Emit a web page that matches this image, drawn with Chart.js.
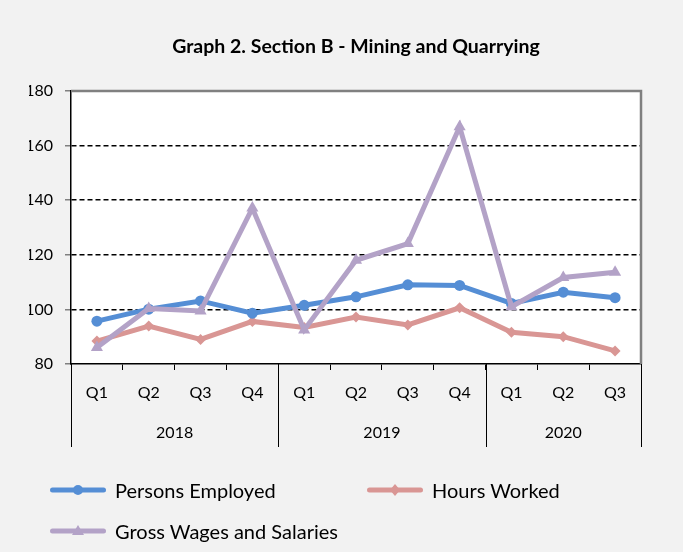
<!DOCTYPE html>
<html>
<head>
<meta charset="utf-8">
<script src="https://cdn.jsdelivr.net/npm/chart.js@4/dist/chart.umd.min.js"></script>
<style>
  html, body { margin: 0; padding: 0; background: #f2f2f2; }
  #wrap { position: relative; width: 683px; height: 552px; background: #f2f2f2; overflow: hidden; }
  #c { position: absolute; left: 0; top: 0; }
  .leg { position: absolute; display: flex; align-items: center; font-family: Lato, "Open Sans", sans-serif; font-size: 20px; color: #000; white-space: nowrap; }
  .leg svg { margin-right: 7px; }
</style>
</head>
<body>
<div id="wrap">
  <canvas id="c" width="683" height="552"></canvas>
</div>
<script>
// ---- data ----
const quarterLabels = ['Q1','Q2','Q3','Q4','Q1','Q2','Q3','Q4','Q1','Q2','Q3'];
const yearLabels = ['2018','2019','2020'];
const quartersPerYear = [4, 4, 3];
const personsEmployed = [95.7, 100.1, 103.1, 98.6, 101.5, 104.6, 109.0, 108.8, 102.2, 106.3, 104.3];
const hoursWorked     = [88.4, 93.9, 89.0, 95.6, 93.4, 97.2, 94.3, 100.6, 91.6, 90.0, 84.8];
const grossWages      = [86.0, 100.3, 99.4, 137.1, 92.5, 118.0, 124.1, 166.9, 101.0, 111.7, 113.6];
const seriesNames = ['Persons Employed', 'Hours Worked', 'Gross Wages and Salaries'];
const yMin = 80, yMax = 180, yStep = 20;
const titleText = 'Graph 2. Section B - Mining and Quarrying';

const colors = { blue: '#558ed5', pink: '#d99694', lav: '#b3a2c7' };
const FONT = 'Lato, "Open Sans", sans-serif';

// year centres / boundaries in category-index units
const yearCenters = [], yearBounds = [-0.5];
{ let s = 0; quartersPerYear.forEach(n => { yearCenters.push(s + (n - 1) / 2); s += n; yearBounds.push(s - 0.5); }); }

const framePlugin = {
  id: 'frame',
  beforeDatasetsDraw(chart) {
    const { ctx, chartArea: a, scales } = chart;
    ctx.save();
    ctx.strokeStyle = '#808080';
    ctx.lineWidth = 2.5;
    ctx.beginPath();
    ctx.moveTo(a.left, a.top); ctx.lineTo(a.right, a.top); ctx.lineTo(a.right, a.bottom);
    ctx.stroke();
    ctx.strokeStyle = '#000';
    ctx.lineWidth = 1;
    const x2 = scales.x2;
    yearBounds.forEach(b => {
      const px = Math.round(x2.getPixelForValue(b)) + 0.5;
      ctx.beginPath();
      ctx.moveTo(px, a.bottom);
      ctx.lineTo(px, x2.bottom);
      ctx.stroke();
    });
    ctx.restore();
  }
};

const chartAreaBg = {
  id: 'areaBg',
  beforeDraw(chart) {
    const { ctx, chartArea: a } = chart;
    ctx.save();
    ctx.fillStyle = '#ffffff';
    ctx.fillRect(a.left, a.top, a.right - a.left, a.bottom - a.top);
    ctx.restore();
  }
};

new Chart(document.getElementById('c'), {
  type: 'line',
  data: {
    labels: quarterLabels,
    datasets: [
      { label: seriesNames[0], data: personsEmployed, borderColor: colors.blue, backgroundColor: colors.blue,
        pointStyle: 'circle', pointRadius: 5.5, borderWidth: 5, pointBorderWidth: 0, order: 2, tension: 0 },
      { label: seriesNames[1], data: hoursWorked, borderColor: colors.pink, backgroundColor: colors.pink,
        pointStyle: 'rectRot', pointRadius: 5.5, borderWidth: 5, pointBorderWidth: 0, order: 3, tension: 0 },
      { label: seriesNames[2], data: grossWages, borderColor: colors.lav, backgroundColor: colors.lav,
        pointStyle: 'triangle', pointRadius: 7, borderWidth: 5, pointBorderWidth: 0, order: 1, tension: 0 }
    ]
  },
  options: {
    responsive: false,
    animation: false,
    devicePixelRatio: 1,
    layout: { padding: { left: 29, right: 0, top: 0, bottom: 105 } },
    plugins: {
      legend: { display: false },
      tooltip: { enabled: false },
      title: {
        display: true, text: titleText, color: '#000',
        font: { family: FONT, size: 19.5, weight: 'bold' },
        padding: { top: 35, bottom: 32.6 }
      }
    },
    scales: {
      y: {
        min: yMin, max: yMax,
        ticks: { stepSize: yStep, color: '#000', font: { family: FONT, size: 16 }, padding: 12 },
        grid: {
          color: c => (c.tick && (c.tick.value === yMin || c.tick.value === yMax)) ? 'rgba(0,0,0,0)' : '#000',
          lineWidth: 1.5,
          tickColor: '#808080', tickLength: 6, tickWidth: 1.5, tickBorderDash: []
        },
        border: { display: true, color: '#000', width: 1.5, dash: [5, 3] },
        afterFit(s) { s.width = 42; }
      },
      yRight: {
        position: 'right', min: yMin, max: yMax,
        grid: { display: false, drawTicks: false },
        border: { display: false },
        ticks: { display: false },
        afterFit(s) { s.width = 42; }
      },
      x: {
        offset: true,
        ticks: { color: '#000', font: { family: FONT, size: 16 }, padding: 13, maxRotation: 0, autoSkip: false },
        grid: { offset: true, drawOnChartArea: false, color: '#000', tickLength: 6, lineWidth: 1 },
        border: { display: true, color: '#000', width: 1.5 },
        afterFit(s) { s.height = 52; }
      },
      x2: {
        type: 'linear', position: 'bottom', weight: 1,
        min: -0.5, max: 10.5,
        grid: { display: false, drawTicks: false },
        border: { display: false },
        afterBuildTicks(s) { s.ticks = yearCenters.map(v => ({ value: v })); },
        ticks: {
          autoSkip: false, maxRotation: 0, color: '#000', font: { family: FONT, size: 16 }, padding: 7,
          callback: v => { const i = yearCenters.indexOf(v); return i >= 0 ? yearLabels[i] : ''; }
        },
        afterFit(s) { s.height = 31; }
      }
    }
  },
  plugins: [chartAreaBg, framePlugin]
});

// ---- HTML legend ----
const wrap = document.getElementById('wrap');
const legendItems = [
  { name: seriesNames[0], color: colors.blue, shape: 'circle', left: 48, cy: 490 },
  { name: seriesNames[1], color: colors.pink, shape: 'diamond', left: 365, cy: 490 },
  { name: seriesNames[2], color: colors.lav, shape: 'triangle', left: 48, cy: 531 }
];
legendItems.forEach(it => {
  const d = document.createElement('div');
  d.className = 'leg';
  d.style.left = it.left + 'px';
  d.style.top = (it.cy - 15) + 'px';
  d.style.height = '30px';
  let marker = '';
  if (it.shape === 'circle') marker = `<circle cx="30" cy="10" r="5" fill="${it.color}"/>`;
  if (it.shape === 'diamond') marker = `<polygon points="30,4 35,10 30,16 25,10" fill="${it.color}"/>`;
  if (it.shape === 'triangle') marker = `<polygon points="30,4 36,14 24,14" fill="${it.color}"/>`;
  d.innerHTML = `<svg width="60" height="20" viewBox="0 0 60 20"><line x1="4.5" y1="10" x2="55.5" y2="10" stroke="${it.color}" stroke-width="5" stroke-linecap="round"/>${marker}</svg><span>${it.name}</span>`;
  wrap.appendChild(d);
});
</script>
</body>
</html>
